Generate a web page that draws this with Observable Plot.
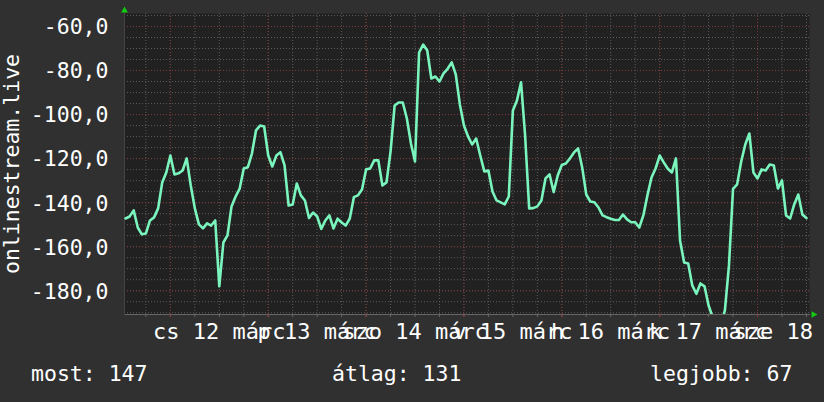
<!DOCTYPE html>
<html><head><meta charset="utf-8">
<script src="https://cdn.jsdelivr.net/npm/d3@7"></script>
<script src="https://cdn.jsdelivr.net/npm/@observablehq/plot@0.6"></script>
<style>
html,body{margin:0;padding:0;background:#303030;}
#wrap{position:relative;width:824px;height:402px;background:#303030;overflow:hidden;font-family:"DejaVu Sans Mono",monospace;color:#fff;}
#chart svg{display:block;}
.leg{position:absolute;top:363px;font-size:21.5px;line-height:21.5px;white-space:pre;color:#fff;font-family:"DejaVu Sans Mono",monospace;}
</style></head><body>
<div id="wrap"><div id="chart"></div></div>
<script>
// hourly samples starting 2020-03-11 13:00 (UTC)
const startTime = Date.UTC(2020, 2, 11, 13, 0);
const values = [
-147.2,-146.3,-143.5,-151.3,-154.4,-154.0,-148.1,-146.7,-142.6,-130.8,-126.3,
-118.6,-127.2,-126.7,-125.4,-119.9,-132.2,-142.6,-149.9,-151.7,-149.4,-150.4,-148.1,
-178.0,-158.1,-154.9,-141.7,-137.2,-133.6,-124.5,-123.9,-117.7,-107.2,-105.0,-105.4,
-118.6,-123.6,-118.6,-117.1,-123.1,-141.3,-140.8,-131.3,-136.7,-139.0,-147.0,-144.5,
-146.3,-151.9,-148.1,-145.8,-151.7,-147.3,-149.0,-150.4,-147.2,-137.5,-136.7,-134.0,
-124.9,-124.5,-120.8,-120.8,-132.2,-130.8,-116.8,-95.9,-94.5,-94.5,-101.8,-113.1,
-121.3,-71.8,-68.2,-70.9,-83.6,-82.7,-85.0,-81.3,-79.2,-76.3,-81.8,-95.4,
-105.0,-109.9,-113.6,-110.9,-118.6,-125.8,-125.4,-134.9,-139.0,-139.9,-140.8,-137.2,
-98.1,-93.6,-85.3,-109.5,-142.6,-142.5,-141.7,-139.0,-129.0,-127.2,-135.2,-127.7,
-122.9,-122.2,-119.9,-117.2,-115.4,-124.0,-136.3,-139.5,-139.8,-142.2,-145.8,-146.6,
-147.3,-147.9,-147.9,-145.4,-147.6,-148.9,-148.9,-151.3,-145.8,-136.7,-128.6,-124.5,
-118.6,-121.7,-124.6,-126.3,-119.9,-157.2,-167.2,-167.6,-177.6,-181.4,-176.7,-178.0,
-186.7,-192,-196,-196,-188.9,-168.5,-133.7,-131.7,-121.3,-113.6,-108.6,-126.3,
-129.0,-124.9,-125.4,-122.7,-123.1,-133.6,-129.9,-145.8,-147.2,-140.8,-136.3,-145.4,
-147.0
];
const domainX = [new Date(Date.UTC(2020, 2, 11, 12, 45)), new Date(Date.UTC(2020, 2, 18, 12, 45))];
const domainY = [-190.8, -54.1];
const yMajorTicks = [-180, -160, -140, -120, -100, -80, -60];
const weekdays = ["v", "h", "k", "sze", "cs", "p", "szo"];
const monthName = "márc";
const yLabel = "onlinestream.live";
const legendLabels = ["most:", "átlag:", "legjobb:"];
const legendValues = [147, 131, 67];

const data = values.map((v, i) => ({t: new Date(startTime + i * 3600e3), v}));
const sixHours = d3.utcHour.every(6).range(domainX[0], domainX[1]);
const days = d3.utcDay.range(domainX[0], domainX[1]);
const noons = d3.utcDay.range(d3.utcDay.floor(domainX[0]), domainX[1])
  .map(d => d3.utcHour.offset(d, 12))
  .filter(d => d >= domainX[0] && d <= domainX[1]);
const yMinorTicks = d3.range(-190, -54, 5);
const fmtY = d => d.toFixed(1).replace(".", ",");
const fmtX = d => `${weekdays[d.getUTCDay()]} ${d.getUTCDate()} ${monthName}`;
const font = "DejaVu Sans Mono";

const chart = Plot.plot({
  width: 824, height: 340,
  marginTop: 13, marginBottom: 26, marginLeft: 124, marginRight: 15,
  style: {background: "transparent", fontFamily: font, color: "#fff", overflow: "visible"},
  x: {type: "utc", domain: domainX, axis: null},
  y: {domain: domainY, axis: null},
  marks: [
    Plot.frame({fill: "#212121", stroke: null}),
    Plot.gridY({ticks: yMinorTicks, stroke: "#5c5c5c", strokeOpacity: 1, strokeDasharray: "1,2"}),
    Plot.gridX({ticks: sixHours, stroke: "#5c5c5c", strokeOpacity: 1, strokeDasharray: "1,2"}),
    Plot.gridY({ticks: yMajorTicks, stroke: "#7e3a3a", strokeOpacity: 1, strokeDasharray: "1,2"}),
    Plot.gridX({ticks: days, stroke: "#7e3a3a", strokeOpacity: 1, strokeDasharray: "1,2"}),
    Plot.frame({anchor: "bottom", stroke: "#666"}),
    Plot.frame({anchor: "left", stroke: "#444"}),
    Plot.axisX({ticks: sixHours, tickSize: 3, tickFormat: () => "", stroke: "#666", label: null}),
    Plot.axisX({ticks: days, tickSize: 3, tickFormat: () => "", stroke: "#8a3b3b", label: null}),
    Plot.axisY({ticks: yMajorTicks, tickSize: 0, tickPadding: 16, tickFormat: fmtY, fontSize: 21.5, label: null, fill: "#fff", dy: 1}),
    Plot.axisX({ticks: noons, tickSize: 0, tickPadding: 9, tickFormat: fmtX, fontSize: 22, label: null, fill: "#fff"}),
    Plot.line(data, {x: "t", y: "v", stroke: "#7af5bd", strokeWidth: 2.6, clip: true}),
    Plot.text([yLabel], {frameAnchor: "left", text: d => d, rotate: -90, dx: -112, fontSize: 21.5, fill: "#fff", textAnchor: "middle", lineAnchor: "middle"}),
    Plot.dot([0], {frameAnchor: "top-left", symbol: "triangle", r: 2.5, fill: "#11cc11", stroke: null, dy: -3}),
    Plot.dot([0], {frameAnchor: "bottom-right", symbol: "triangle", rotate: 90, r: 2.5, fill: "#11cc11", stroke: null, dx: 4})
  ]
});
document.getElementById("chart").appendChild(chart);

const legendX = [31, 332, 650];
const wrap = document.getElementById("wrap");
legendLabels.forEach((l, i) => {
  const s = document.createElement("span");
  s.className = "leg";
  s.style.left = legendX[i] + "px";
  s.textContent = `${l} ${legendValues[i]}`;
  wrap.appendChild(s);
});
</script>
</body></html>
